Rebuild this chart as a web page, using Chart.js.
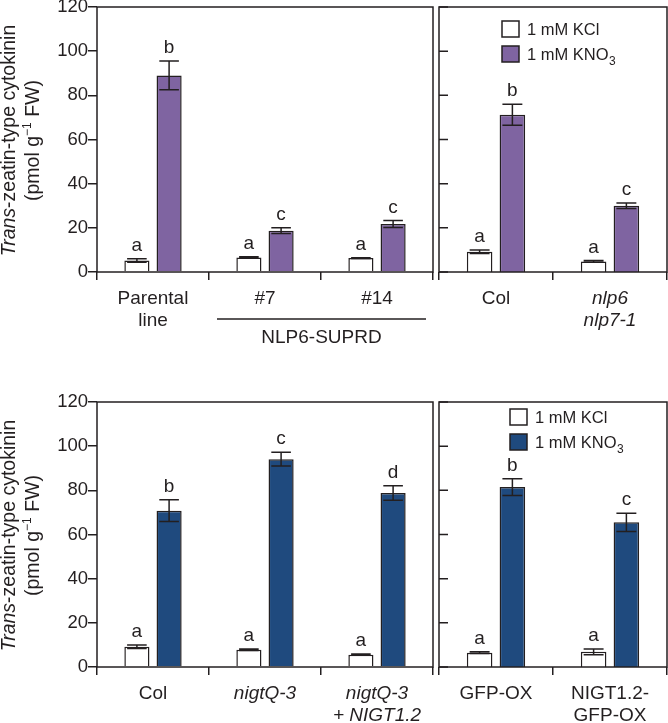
<!DOCTYPE html>
<html><head><meta charset="utf-8">
<script src="https://cdn.jsdelivr.net/npm/chart.js@4"></script>
<style>
html,body{margin:0;padding:0;background:#fff;width:668px;height:723px;overflow:hidden;position:relative}
canvas{position:absolute;left:0}
</style></head><body>
<canvas id="c1" width="668" height="380" style="top:-20px"></canvas>
<canvas id="c2" width="668" height="380" style="top:-20px"></canvas>
<canvas id="c3" width="668" height="343" style="top:380px"></canvas>
<canvas id="c4" width="668" height="343" style="top:380px"></canvas>
<script>
// ---------- data ----------
const yTicks = [0, 20, 40, 60, 80, 100, 120];
const seriesNames = ['1 mM KCl', '1 mM KNO3'];

const topLeftLabels = [['Parental', 'line'], '#7', '#14'];
const topLeftItalic = [false, false, false];
const topLeftKCl = [5.2, 6.6, 6.3];
const topLeftKClErr = [0.8, 0.3, 0.2];
const topLeftKNO3 = [89.0, 18.7, 21.7];
const topLeftKNO3Err = [6.5, 1.3, 1.6];
const topLeftKClSig = ['a', 'a', 'a'];
const topLeftKNO3Sig = ['b', 'c', 'c'];
const topLeftGroupLabel = 'NLP6-SUPRD';

const topRightLabels = ['Col', ['nlp6', 'nlp7-1']];
const topRightItalic = [false, true];
const topRightKCl = [9.2, 4.8];
const topRightKClErr = [0.8, 0.4];
const topRightKNO3 = [71.2, 30.0];
const topRightKNO3Err = [4.8, 1.3];
const topRightKClSig = ['a', 'a'];
const topRightKNO3Sig = ['b', 'c'];

const bottomLeftLabels = ['Col', 'nigtQ-3', ['nigtQ-3', '+ NIGT1.2']];
const bottomLeftItalic = [false, true, true];
const bottomLeftKCl = [9.2, 7.8, 5.6];
const bottomLeftKClErr = [0.8, 0.3, 0.3];
const bottomLeftKNO3 = [70.8, 94.1, 78.8];
const bottomLeftKNO3Err = [4.9, 3.1, 3.3];
const bottomLeftKClSig = ['a', 'a', 'a'];
const bottomLeftKNO3Sig = ['b', 'c', 'd'];

const bottomRightLabels = ['GFP-OX', ['NIGT1.2-', 'GFP-OX']];
const bottomRightItalic = [false, false];
const bottomRightKCl = [6.5, 6.9];
const bottomRightKClErr = [0.4, 1.3];
const bottomRightKNO3 = [81.5, 65.5];
const bottomRightKNO3Err = [3.8, 4.1];
const bottomRightKClSig = ['a', 'a'];
const bottomRightKNO3Sig = ['b', 'c'];

// ---------- style ----------
const FONT = "'Liberation Sans', Arial, Helvetica, sans-serif";
const INK = '#231f20';
const PURPLE = '#7f64a1';
const NAVY = '#1f4a7e';
const FS = 18.5;
const FL = 19;

function drawMixed(ctx, parts, x, y) {
  let total = 0;
  parts.forEach(p => { ctx.font = `${p.style||'normal'} ${p.size||FS}px ${FONT}`; p.w = ctx.measureText(p.t).width; total += p.w; });
  let cx = x - total / 2;
  parts.forEach(p => {
    ctx.font = `${p.style||'normal'} ${p.size||FS}px ${FONT}`;
    ctx.textAlign = 'left';
    ctx.fillText(p.t, cx, y + (p.dy||0));
    cx += p.w;
  });
}

function overlayPlugin(o) {
  return {
    id: 'overlay',
    afterDatasetsDraw(chart) {
      const ctx = chart.ctx, a = chart.chartArea, ys = chart.scales.y, xs = chart.scales.x;
      ctx.save();
      ctx.strokeStyle = INK; ctx.fillStyle = INK; ctx.lineWidth = 1.5;
      chart.data.datasets.forEach((ds, i) => {
        const meta = chart.getDatasetMeta(i);
        meta.data.forEach((bar, j) => {
          const v = ds.data[j], e = ds.err[j];
          const t = ys.getPixelForValue(v + e), b = ys.getPixelForValue(v - e);
          const hw = bar.width * 0.39;
          ctx.beginPath();
          ctx.moveTo(bar.x, t); ctx.lineTo(bar.x, b);
          ctx.moveTo(bar.x - hw, t); ctx.lineTo(bar.x + hw, t);
          ctx.moveTo(bar.x - hw, b); ctx.lineTo(bar.x + hw, b);
          ctx.stroke();
          ctx.font = `normal ${FL}px ${FONT}`;
          ctx.textAlign = 'center'; ctx.textBaseline = 'alphabetic';
          ctx.fillText(ds.sig[j], bar.x, t - 8);
        });
      });
      ctx.strokeRect(a.left, a.top, a.right - a.left, a.bottom - a.top);
      if (!o.showY) {
        ctx.beginPath();
        yTicks.forEach(v => { const py = ys.getPixelForValue(v); ctx.moveTo(a.left, py); ctx.lineTo(a.left + 9, py); });
        ctx.stroke();
      }
      if (o.legend) {
        const bx = a.left + o.legend.dx, by = a.top + o.legend.dy;
        const cols = ['#ffffff', o.color];
        for (let k = 0; k < 2; k++) {
          const yy = by + k * 25;
          ctx.fillStyle = cols[k]; ctx.fillRect(bx, yy, 17, 16);
          ctx.strokeStyle = INK; ctx.strokeRect(bx, yy, 17, 16);
          ctx.fillStyle = INK; ctx.textBaseline = 'alphabetic';
          ctx.textAlign = 'left';
          ctx.font = `normal 16.5px ${FONT}`;
          const base = yy + 14;
          if (k === 0) { ctx.fillText(seriesNames[0], bx + 25, base); }
          else {
            const main = seriesNames[1].slice(0, -1), sub = seriesNames[1].slice(-1);
            ctx.fillText(main, bx + 25, base);
            const w = ctx.measureText(main).width;
            ctx.font = `normal 12px ${FONT}`;
            ctx.fillText(sub, bx + 25 + w + 0.5, base + 5);
          }
        }
      }
      if (o.showY) {
        ctx.save();
        ctx.translate(0, (a.top + a.bottom) / 2 + 1);
        ctx.rotate(-Math.PI / 2);
        ctx.fillStyle = INK; ctx.textBaseline = 'alphabetic';
        drawMixed(ctx, [{t: 'Trans', style: 'italic', size: 19.5}, {t: '-zeatin-type cytokinin', size: 19.5}], 0, 15);
        drawMixed(ctx, [{t: '(pmol g', size: 19.5}, {t: '\u22121', size: 12, dy: -8}, {t: ' FW)', size: 19.5}], 0, 39);
        ctx.restore();
      }
      if (o.group) {
        const x1 = xs.getPixelForValue(0.5) + 8, x2 = a.right - 7;
        const yy = a.bottom + 47;
        ctx.beginPath(); ctx.moveTo(x1, yy); ctx.lineTo(x2, yy); ctx.stroke();
        ctx.font = `normal ${FL}px ${FONT}`;
        ctx.textAlign = 'center'; ctx.textBaseline = 'middle';
        ctx.fillText(o.group, (x1 + x2) / 2, a.bottom + 66);
      }
      ctx.restore();
    }
  };
}

function build(id, o) {
  const el = document.getElementById(id);
  const H = el.height;
  new Chart(el, {
    type: 'bar',
    data: {
      labels: o.labels,
      datasets: [
        {label: seriesNames[0], data: o.kcl, err: o.kclErr, sig: o.kclSig, backgroundColor: '#ffffff',
         borderColor: INK, borderWidth: 1.5, categoryPercentage: 0.575, barPercentage: 0.78},
        {label: seriesNames[1], data: o.kno3, err: o.kno3Err, sig: o.kno3Sig, backgroundColor: o.color,
         borderColor: INK, borderWidth: 1.5, categoryPercentage: 0.575, barPercentage: 0.78}
      ]
    },
    options: {
      responsive: false, animation: false, events: [],
      layout: {padding: {left: o.padLeft, right: 668 - o.right, top: o.top, bottom: 0}},
      plugins: {legend: {display: false}, tooltip: {enabled: false}},
      scales: {
        x: {
          grid: {offset: true, drawOnChartArea: false, drawTicks: true, tickLength: 8, color: INK, lineWidth: 1.5},
          border: {display: false},
          ticks: {color: INK, padding: 7, maxRotation: 0, minRotation: 0, autoSkip: false,
                  font: (c) => ({family: FONT, size: FL, style: o.italic[c.index] ? 'italic' : 'normal', lineHeight: 1.2})},
          afterFit: (s) => { s.height = H - o.bottom; }
        },
        y: {
          display: o.showY, min: 0, max: 120,
          ticks: {stepSize: 20, color: INK, padding: 0, font: {family: FONT, size: FS}},
          grid: {drawOnChartArea: false, tickLength: 9, color: INK, lineWidth: 1.5},
          border: {display: false},
          afterFit: (s) => { s.width = o.showY ? 97 : 0; }
        }
      }
    },
    plugins: [overlayPlugin(o)]
  });
}

build('c1', {labels: topLeftLabels, italic: topLeftItalic, kcl: topLeftKCl, kclErr: topLeftKClErr, kno3: topLeftKNO3,
  kno3Err: topLeftKNO3Err, kclSig: topLeftKClSig, kno3Sig: topLeftKNO3Sig, color: PURPLE,
  padLeft: 0, right: 433, top: 27, bottom: 292, showY: true, group: topLeftGroupLabel});
build('c2', {labels: topRightLabels, italic: topRightItalic, kcl: topRightKCl, kclErr: topRightKClErr, kno3: topRightKNO3,
  kno3Err: topRightKNO3Err, kclSig: topRightKClSig, kno3Sig: topRightKNO3Sig, color: PURPLE,
  padLeft: 439, right: 667, top: 27, bottom: 292, showY: false, legend: {dx: 63, dy: 14}});
build('c3', {labels: bottomLeftLabels, italic: bottomLeftItalic, kcl: bottomLeftKCl, kclErr: bottomLeftKClErr, kno3: bottomLeftKNO3,
  kno3Err: bottomLeftKNO3Err, kclSig: bottomLeftKClSig, kno3Sig: bottomLeftKNO3Sig, color: NAVY,
  padLeft: 0, right: 433, top: 22, bottom: 287, showY: true});
build('c4', {labels: bottomRightLabels, italic: bottomRightItalic, kcl: bottomRightKCl, kclErr: bottomRightKClErr, kno3: bottomRightKNO3,
  kno3Err: bottomRightKNO3Err, kclSig: bottomRightKClSig, kno3Sig: bottomRightKNO3Sig, color: NAVY,
  padLeft: 439, right: 667, top: 22, bottom: 287, showY: false, legend: {dx: 71, dy: 7}});
</script>
</body></html>
